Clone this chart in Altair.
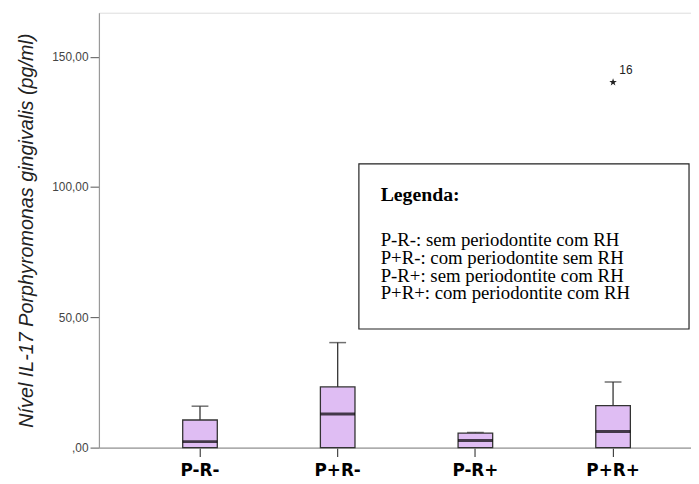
import altair as alt
import pandas as pd

groups = ["P-R-", "P+R-", "P-R+", "P+R+"]
q1 = [0.0, 0.0, 0.0, 0.0]
medians = [2.3, 12.9, 2.7, 6.2]
q3 = [10.6, 23.3, 5.6, 16.1]
upper = [15.9, 40.3, 5.8, 25.2]

outlier_group = ["P+R+"]
outlier_value = [140.2]
outlier_label = ["16"]

y_ticks = [0, 50, 100, 150]
y_title = "Nível IL-17 Porphyromonas gingivalis (pg/ml)"

legend_title = "Legenda:"
legend_lines = [
    "P-R-: sem periodontite com RH",
    "P+R-: com periodontite sem RH",
    "P-R+: sem periodontite com RH",
    "P+R+: com periodontite com RH",
]

df = pd.DataFrame({"g": groups, "q1": q1, "med": medians, "q3": q3, "up": upper})
out_df = pd.DataFrame({"g": outlier_group, "v": outlier_value, "lab": outlier_label})

x_enc = alt.X(
    "g:N",
    sort=groups,
    scale=alt.Scale(paddingInner=0, paddingOuter=0.15, align=0.78),
    axis=alt.Axis(
        title=None,
        labelAngle=0,
        labelFont="DejaVu Sans",
        labelFontWeight="bold",
        labelFontSize=17,
        labelColor="#000000",
        labelPadding=6,
        tickSize=9,
        tickColor="#444444",
        tickWidth=1.2,
        domainColor="#999999",
        domainWidth=1.2,
    ),
)
y_scale = alt.Scale(domain=[0, 166.9], nice=False, zero=False)
y_axis = alt.Axis(
    title=y_title,
    values=y_ticks,
    labelExpr="datum.value == 0 ? ',00' : replace(format(datum.value, '.2f'), '.', ',')",
    labelFont="Liberation Sans",
    labelFontSize=12,
    labelColor="#444444",
    labelPadding=2,
    tickSize=9,
    tickColor="#555555",
    domainColor="#999999",
    domainWidth=1.2,
    grid=False,
    titleFont="Liberation Sans",
    titleFontStyle="italic",
    titleFontWeight="normal",
    titleFontSize=20,
    titleColor="#222222",
    titlePadding=16,
)

base = alt.Chart(df)

whisker = base.mark_rule(color="#333333", strokeWidth=1.3).encode(
    x=x_enc, y=alt.Y("q3:Q", scale=y_scale, axis=y_axis), y2="up:Q"
)
cap = base.mark_tick(size=17, thickness=1.5, color="#333333").encode(
    x=x_enc, y=alt.Y("up:Q", scale=y_scale)
)
box = base.mark_bar(size=35, fill="#DFBDF3", stroke="#333333", strokeWidth=1.3).encode(
    x=x_enc, y=alt.Y("q1:Q", scale=y_scale), y2="q3:Q"
)
median = base.mark_tick(size=35, thickness=3, color="#000000").encode(
    x=x_enc, y=alt.Y("med:Q", scale=y_scale)
)

star_path = ("M0,-1 L0.235,-0.324 L0.951,-0.309 L0.380,0.124 L0.588,0.809 "
             "L0,0.4 L-0.588,0.809 L-0.380,0.124 L-0.951,-0.309 L-0.235,-0.324 Z")
outl = alt.Chart(out_df).mark_point(
    shape=star_path, filled=True, size=64, color="#222222", opacity=1
).encode(x=alt.X("g:N", sort=groups), y=alt.Y("v:Q", scale=y_scale))
outl_lab = alt.Chart(out_df).mark_text(
    dx=13, dy=-12, font="Liberation Sans", fontSize=12, color="#222222"
).encode(x=alt.X("g:N", sort=groups), y=alt.Y("v:Q", scale=y_scale), text="lab:N")

one = alt.Data(values=[{"a": 1}])
leg_box = alt.Chart(one).mark_rect(
    fill="#ffffff", stroke="#222222", strokeWidth=1.2
).encode(x=alt.value(263), x2=alt.value(597), y=alt.value(153), y2=alt.value(320))
leg_title = alt.Chart(one).mark_text(
    text=legend_title, align="left", baseline="alphabetic",
    font="Liberation Serif", fontWeight="bold", fontSize=20, color="#000000"
).encode(x=alt.value(285), y=alt.value(190))
leg_text = alt.Chart(one).mark_text(
    text=legend_lines, align="left", baseline="alphabetic", lineHeight=18,
    font="Liberation Serif", fontSize=19, color="#000000"
).encode(x=alt.value(285), y=alt.value(236))

chart = alt.layer(
    whisker, cap, box, median, outl, outl_lab, leg_box, leg_title, leg_text
).properties(
    width=599, height=440,
    autosize=alt.AutoSizeParams(type="none"),
    padding={"left": 92, "top": 2, "right": 0, "bottom": 30},
).configure_view(stroke=None).configure(background="#ffffff")

chart.save("out.html", embed_options={"renderer": "svg", "actions": False})
